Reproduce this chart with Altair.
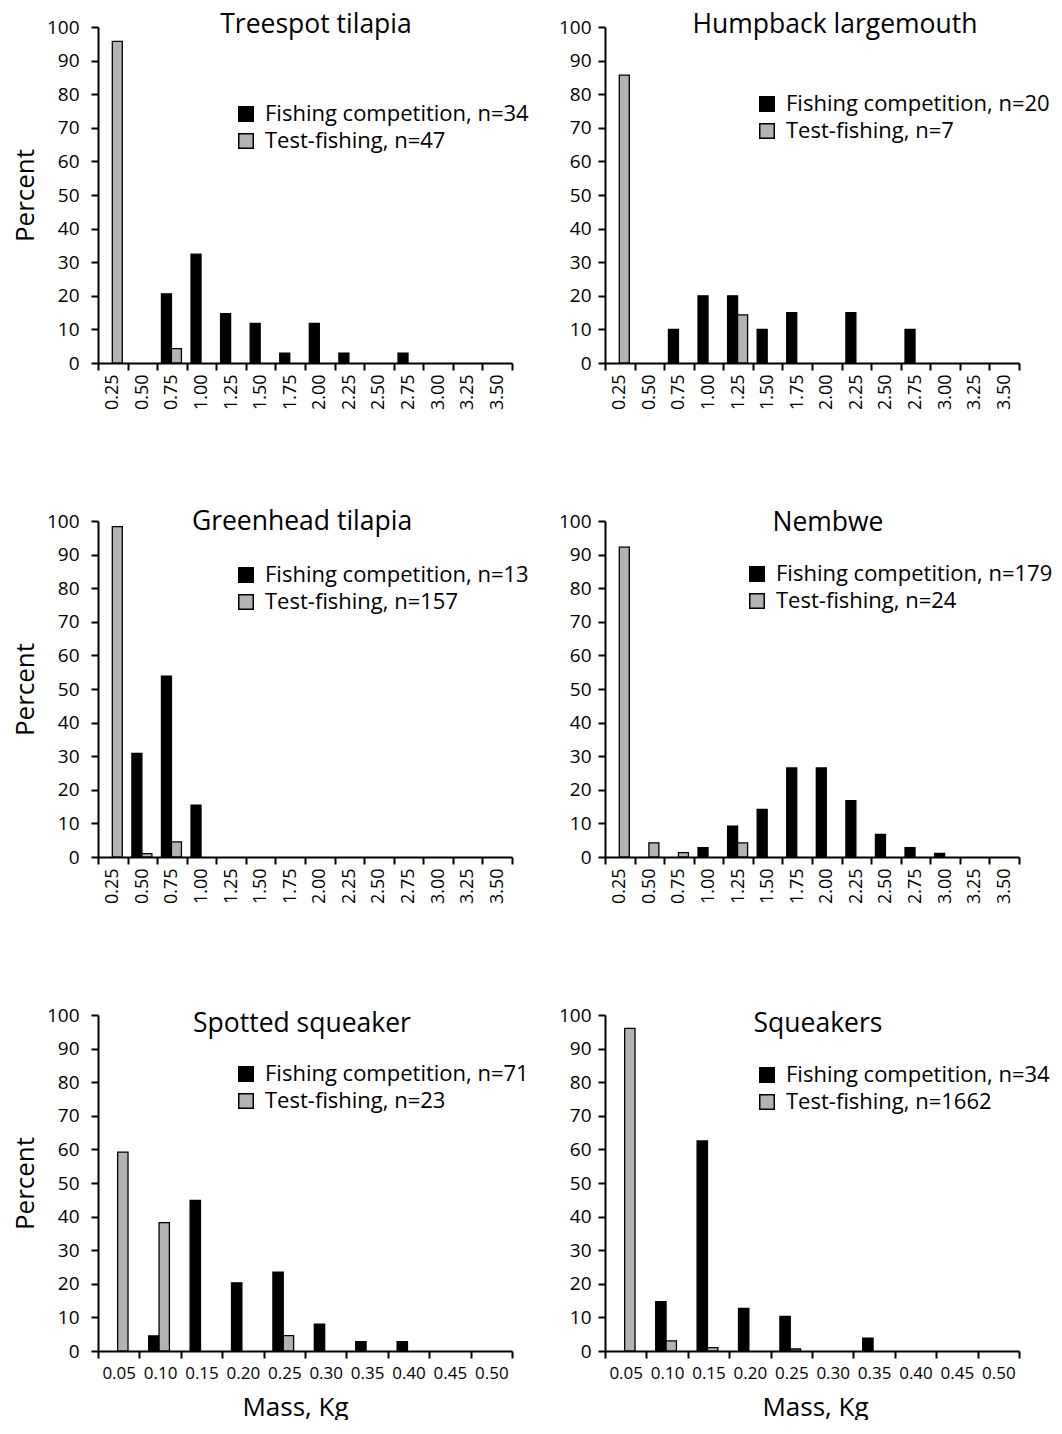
import altair as alt
import pandas as pd

# ---------------- data ----------------
mass_large = ["0.25", "0.50", "0.75", "1.00", "1.25", "1.50", "1.75",
              "2.00", "2.25", "2.50", "2.75", "3.00", "3.25", "3.50"]
mass_small = ["0.05", "0.10", "0.15", "0.20", "0.25",
              "0.30", "0.35", "0.40", "0.45", "0.50"]

treespot_fc = [0, 0, 20.6, 32.4, 14.7, 11.8, 2.9, 11.8, 2.9, 0, 2.9, 0, 0, 0]
treespot_tf = [95.7, 0, 4.3, 0, 0, 0, 0, 0, 0, 0, 0, 0, 0, 0]

humpback_fc = [0, 0, 10.0, 20.0, 20.0, 10.0, 15.0, 0, 15.0, 0, 10.0, 0, 0, 0]
humpback_tf = [85.7, 0, 0, 0, 14.3, 0, 0, 0, 0, 0, 0, 0, 0, 0]

greenhead_fc = [0, 30.8, 53.8, 15.4, 0, 0, 0, 0, 0, 0, 0, 0, 0, 0]
greenhead_tf = [98.3, 1.0, 4.5, 0, 0, 0, 0, 0, 0, 0, 0, 0, 0, 0]

nembwe_fc = [0, 0, 0, 2.8, 9.2, 14.2, 26.5, 26.5, 16.8, 6.7, 2.8, 1.1, 0, 0]
nembwe_tf = [92.2, 4.2, 1.3, 0, 4.2, 0, 0, 0, 0, 0, 0, 0, 0, 0]

spotted_fc = [0, 4.5, 44.8, 20.3, 23.5, 8.0, 2.8, 2.8, 0, 0]
spotted_tf = [59.2, 38.2, 0, 0, 4.6, 0, 0, 0, 0, 0]

squeakers_fc = [0, 14.7, 62.5, 12.7, 10.3, 0, 3.8, 0, 0, 0]
squeakers_tf = [96.0, 3.0, 1.0, 0, 0.6, 0, 0, 0, 0, 0]

titles = ["Treespot tilapia", "Humpback largemouth", "Greenhead tilapia",
          "Nembwe", "Spotted squeaker", "Squeakers"]
n_fc = [34, 20, 13, 179, 71, 34]
n_tf = [47, 7, 157, 24, 23, 1662]
cats = [mass_large, mass_large, mass_large, mass_large, mass_small, mass_small]
fc_vals = [treespot_fc, humpback_fc, greenhead_fc, nembwe_fc, spotted_fc, squeakers_fc]
tf_vals = [treespot_tf, humpback_tf, greenhead_tf, nembwe_tf, spotted_tf, squeakers_tf]

# ---------------- style ----------------
FONT = "Open Sans"
W, H = 414, 336
legend_x = [137, 151, 137, 141, 137, 151]
legend_y = [76, 66, 43, 42, 48, 49]
title_dx = [11, 23, -3, 16, -3, 6]
title_dy = [41, 41, 44, 45, 52, 52]
mass_title_x = [197, 210]


def panel(i):
    fc_lab = f"Fishing competition, n={n_fc[i]}"
    tf_lab = f"Test-fishing, n={n_tf[i]}"
    rows = []
    for c, v in zip(cats[i], fc_vals[i]):
        if v > 0:
            rows.append({"mass": c, "series": fc_lab, "pct": v})
    for c, v in zip(cats[i], tf_vals[i]):
        if v > 0:
            rows.append({"mass": c, "series": tf_lab, "pct": v})
    df = pd.DataFrame(rows)
    left = i % 2 == 0
    bottom = i >= 4
    pad_outer = 1.0 if bottom else 0.48
    x_axis_kw = dict(
        labelAngle=0 if bottom else 270,
        tickBand="extent", tickSize=7, tickWidth=2, tickColor="black",
        domainColor="black", domainWidth=2,
        labelFont=FONT, labelFontSize=17 if bottom else 18, labelColor="black",
        labelPadding=7 if bottom else 4, labelOverlap=False, grid=False)
    if bottom:
        x_axis_kw.update(title="Mass, Kg", titleFont=FONT, titleFontSize=26,
                         titleFontWeight="normal", titleColor="black",
                         titlePadding=13, titleX=mass_title_x[i % 2])
    else:
        x_axis_kw.update(title=None)
    chart = alt.Chart(
        df,
        title=alt.TitleParams(
            text=titles[i], font=FONT, fontSize=26.5, fontWeight="normal",
            color="black", anchor="middle", frame="group", offset=0,
            baseline="alphabetic", dx=title_dx[i], dy=title_dy[i]),
    ).mark_bar(stroke="black", strokeWidth=1.3).encode(
        x=alt.X("mass:N", sort=cats[i],
                scale=alt.Scale(domain=cats[i], paddingInner=0, paddingOuter=0),
                axis=alt.Axis(**x_axis_kw)),
        xOffset=alt.XOffset("series:N",
                            scale=alt.Scale(domain=[fc_lab, tf_lab], paddingInner=0,
                                            paddingOuter=pad_outer, align=0.45)),
        y=alt.Y("pct:Q",
                scale=alt.Scale(domain=[0, 100], nice=False, zero=True),
                axis=alt.Axis(
                    values=list(range(0, 101, 10)),
                    title="Percent" if left else None,
                    tickSize=7, tickWidth=2, tickColor="black",
                    domainColor="black", domainWidth=2,
                    labelFont=FONT, labelFontSize=19, labelColor="black",
                    labelPadding=12 if left else 7,
                    titleFont=FONT, titleFontSize=26, titleFontWeight="normal",
                    titleColor="black", titlePadding=8, grid=False)),
        color=alt.Color("series:N",
                        scale=alt.Scale(domain=[fc_lab, tf_lab],
                                        range=["#000000", "#b3b3b3"]),
                        legend=alt.Legend(
                            orient="none", legendX=legend_x[i], legendY=legend_y[i],
                            title=None, padding=0, symbolType="square",
                            symbolSize=210, symbolStrokeColor="black",
                            symbolStrokeWidth=1.5, symbolOpacity=1,
                            labelFont=FONT, labelFontSize=22, labelColor="black",
                            labelOffset=8, rowPadding=5, labelLimit=400)),
    ).properties(width=W, height=H)
    return chart


p = [panel(i) for i in range(6)]
chart = alt.concat(*p, columns=2, spacing={"row": 158, "column": 93},
                   bounds="flush").resolve_scale(
    color="independent", x="independent", y="independent", xOffset="independent"
).properties(
    padding={"left": 4, "top": 3, "right": 0, "bottom": 0},
    background="white",
).configure_view(stroke=None)

chart.save("out.html", embed_options={"renderer": "svg", "actions": False})
